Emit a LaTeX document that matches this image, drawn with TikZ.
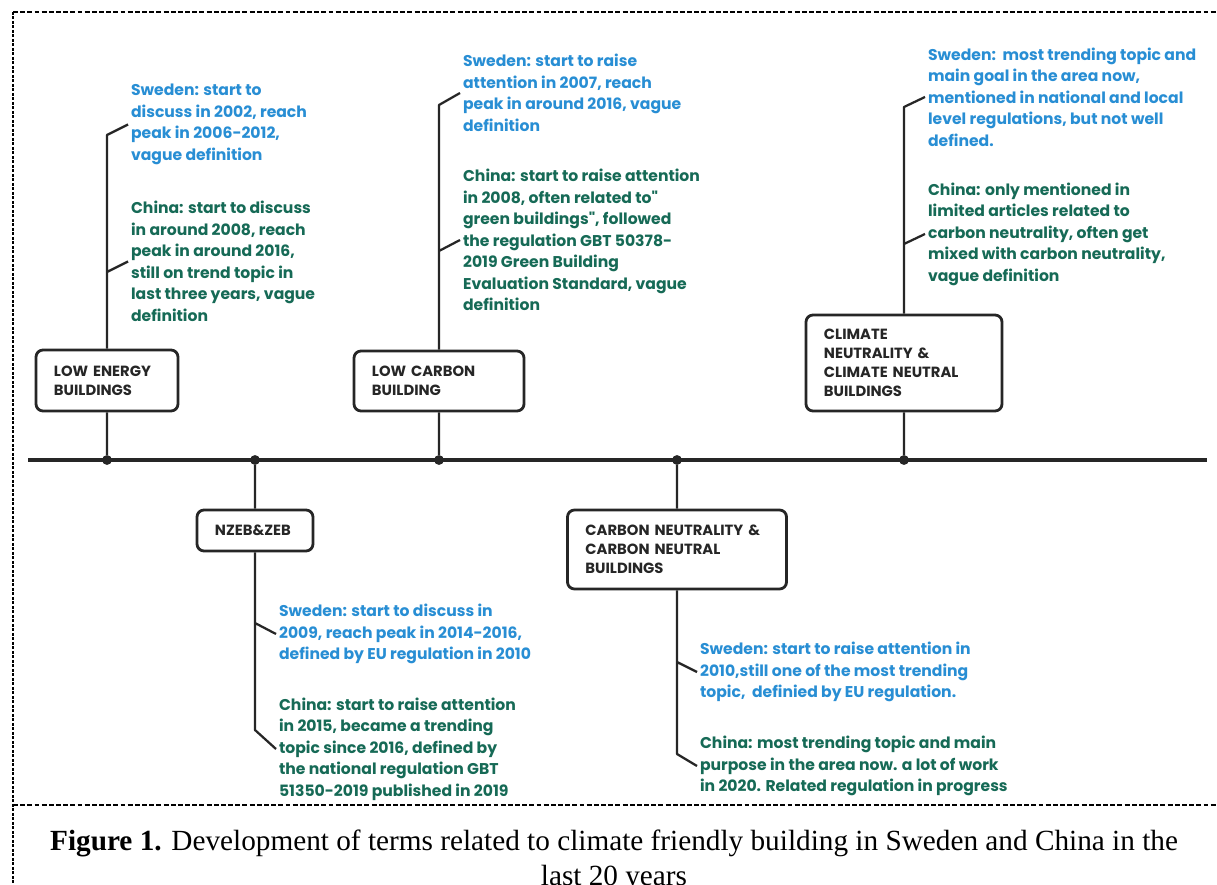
\documentclass[tikz,border=0pt]{standalone}
\usepackage{fontspec}
\setmainfont{Liberation Serif}
\newfontfamily\poppins{Poppins}
\usepackage{tikz}
\usetikzlibrary{positioning}
\definecolor{sweblue}{RGB}{40,142,212}
\definecolor{chngreen}{RGB}{22,106,86}
\definecolor{boxgrey}{RGB}{38,38,38}

\begin{document}
\begin{tikzpicture}[x=0.025cm,y=-0.025cm,line join=round,
  term node/.style={draw=boxgrey,line width=2pt,rounded corners=5pt,fill=white,inner xsep=0.45cm,inner ysep=0pt,align=left,text=boxgrey,font=\poppins\bfseries\fontsize{10.5}{13.5}\selectfont},
  swe note/.style={anchor=west,align=left,inner sep=2pt,text=sweblue,font=\poppins\bfseries\fontsize{11.1}{15.3}\selectfont},
  chn note/.style={swe note,text=chngreen},
  year dot/.style={circle,fill=boxgrey,inner sep=0pt,minimum size=7pt},
  stem/.style={draw=boxgrey,line width=1.6pt}]
					\useasboundingbox (0,0) rectangle (1217,885);
					\clip (0,0) rectangle (1217,885);
					\fill[white] (0,0) rectangle (1217,885);
					\coordinate (frameTL) at (13,12);
					\coordinate (frameTR) at (1217,12);
					\coordinate (frameBL) at (13,885);
					\coordinate (sepL) at (13,805);
					\coordinate (sepR) at (1217,805);
					\draw[line width=1.4pt,dash pattern=on 3.5pt off 1.6pt] (frameTL) -- (frameTR);
					\draw[line width=1.4pt,dash pattern=on 3.5pt off 1.6pt] (sepL) -- (sepR);
					\draw[line width=2pt,dash pattern=on 2pt off 1.2pt] (frameTL) -- (frameBL);
					\coordinate (lineL) at (28,460);
					\coordinate (lineR) at (1207,460);
					\draw[boxgrey,line width=2.2pt] (lineL) -- (lineR);
					\node[year dot] (d1) at (107,460) {};
					\node[year dot] (d2) at (255,460) {};
					\node[year dot] (d3) at (439,460) {};
					\node[year dot] (d4) at (677,460) {};
					\node[year dot] (d5) at (904,460) {};
					\node[term node,text width=2.65cm,minimum height=1.525cm] (LEB) at (107,380.5) {LOW ENERGY\\BUILDINGS};
					\node[term node,text width=2.0cm,minimum height=1.025cm] (NZEB) at (255,530.5) {NZEB\&ZEB};
					\node[term node,text width=3.35cm,minimum height=1.5cm] (LCB) at (439,381) {LOW CARBON\\BUILDING};
					\node[term node,text width=4.575cm,minimum height=1.975cm] (CN) at (677,549.5) {CARBON NEUTRALITY \&\\CARBON NEUTRAL\\BUILDINGS};
					\node[term node,text width=4.0cm,minimum height=2.4cm] (CLN) at (904,363) {CLIMATE\\NEUTRALITY \&\\CLIMATE NEUTRAL\\BUILDINGS};
					\node[swe note] (LEBswe) at (128,124.5) {Sweden: start to\\discuss in 2002, reach\\peak in 2006-2012,\\vague definition};
					\node[chn note] (LEBchn) at (128,261.5) {China: start to discuss\\in around 2008, reach\\peak in around 2016,\\still on trend topic in\\last three years, vague\\definition};
					\node[swe note] (LCBswe) at (460,93) {Sweden: start to raise\\attention in 2007, reach\\peak in around 2016, vague\\definition};
					\node[chn note] (LCBchn) at (460,240) {China: start to raise attention\\in 2008, often related to"\\green buildings", followed\\the regulation GBT 50378-\\2019 Green Building\\Evaluation Standard, vague\\definition};
					\node[swe note] (CLNswe) at (925,97) {Sweden:\ \ most trending topic and\\main goal in the area now,\\mentioned in national and local\\level regulations, but not well\\defined.};
					\node[chn note] (CLNchn) at (925,234) {China: only mentioned in\\limited articles related to\\carbon neutrality, often get\\mixed with carbon neutrality,\\vague definition};
					\node[swe note] (NZEBswe) at (276,634) {Sweden: start to discuss in\\2009, reach peak in 2014-2016,\\defined by EU regulation in 2010};
					\node[chn note] (NZEBchn) at (276,749) {China: start to raise attention\\in 2015, became a trending\\topic since 2016, defined by\\the national regulation GBT\\51350-2019 published in 2019};
					\node[swe note] (CNswe) at (697,672) {Sweden: start to raise attention in\\2010,still one of the most trending\\topic,\ \ definied by EU regulation.};
					\node[chn note] (CNchn) at (697,766) {China: most trending topic and main\\purpose in the area now. a lot of work\\in 2020. Related regulation in progress};
					\coordinate (LEBtop) at (107,135);
					\coordinate (LEBmid) at (107,272);
					\coordinate (LCBtop) at (439,105);
					\coordinate (LCBmid) at (439,251);
					\coordinate (CLNtop) at (904,107);
					\coordinate (CLNmid) at (904,244);
					\coordinate (NZEBmid) at (255,623);
					\coordinate (NZEBend) at (255,730);
					\coordinate (CNmid) at (677,662);
					\coordinate (CNend) at (677,754);
				\path[stem]
					(d1) -- (LEB.south)
					(LEB.north) -- (LEBtop) -- (LEBswe.west)
					(LEBmid) -- (LEBchn.west)
					(d3) -- (LCB.south)
					(LCB.north) -- (LCBtop) -- (LCBswe.west)
					(LCBmid) -- (LCBchn.west)
					(d5) -- (CLN.south)
					(CLN.north) -- (CLNtop) -- (CLNswe.west)
					(CLNmid) -- (CLNchn.west)
					(d2) -- (NZEB.north)
					(NZEB.south) -- (NZEBend) -- (NZEBchn.west)
					(NZEBmid) -- (NZEBswe.west)
					(d4) -- (CN.north)
					(CN.south) -- (CNend) -- (CNchn.west)
					(CNmid) -- (CNswe.west);
					\node[align=center,font=\fontsize{20.8}{25}\selectfont] (caption) at (614,861) {\textbf{Figure 1.} Development of terms related to climate friendly building in Sweden and China in the\\last 20 years};
\end{tikzpicture}
\end{document}
